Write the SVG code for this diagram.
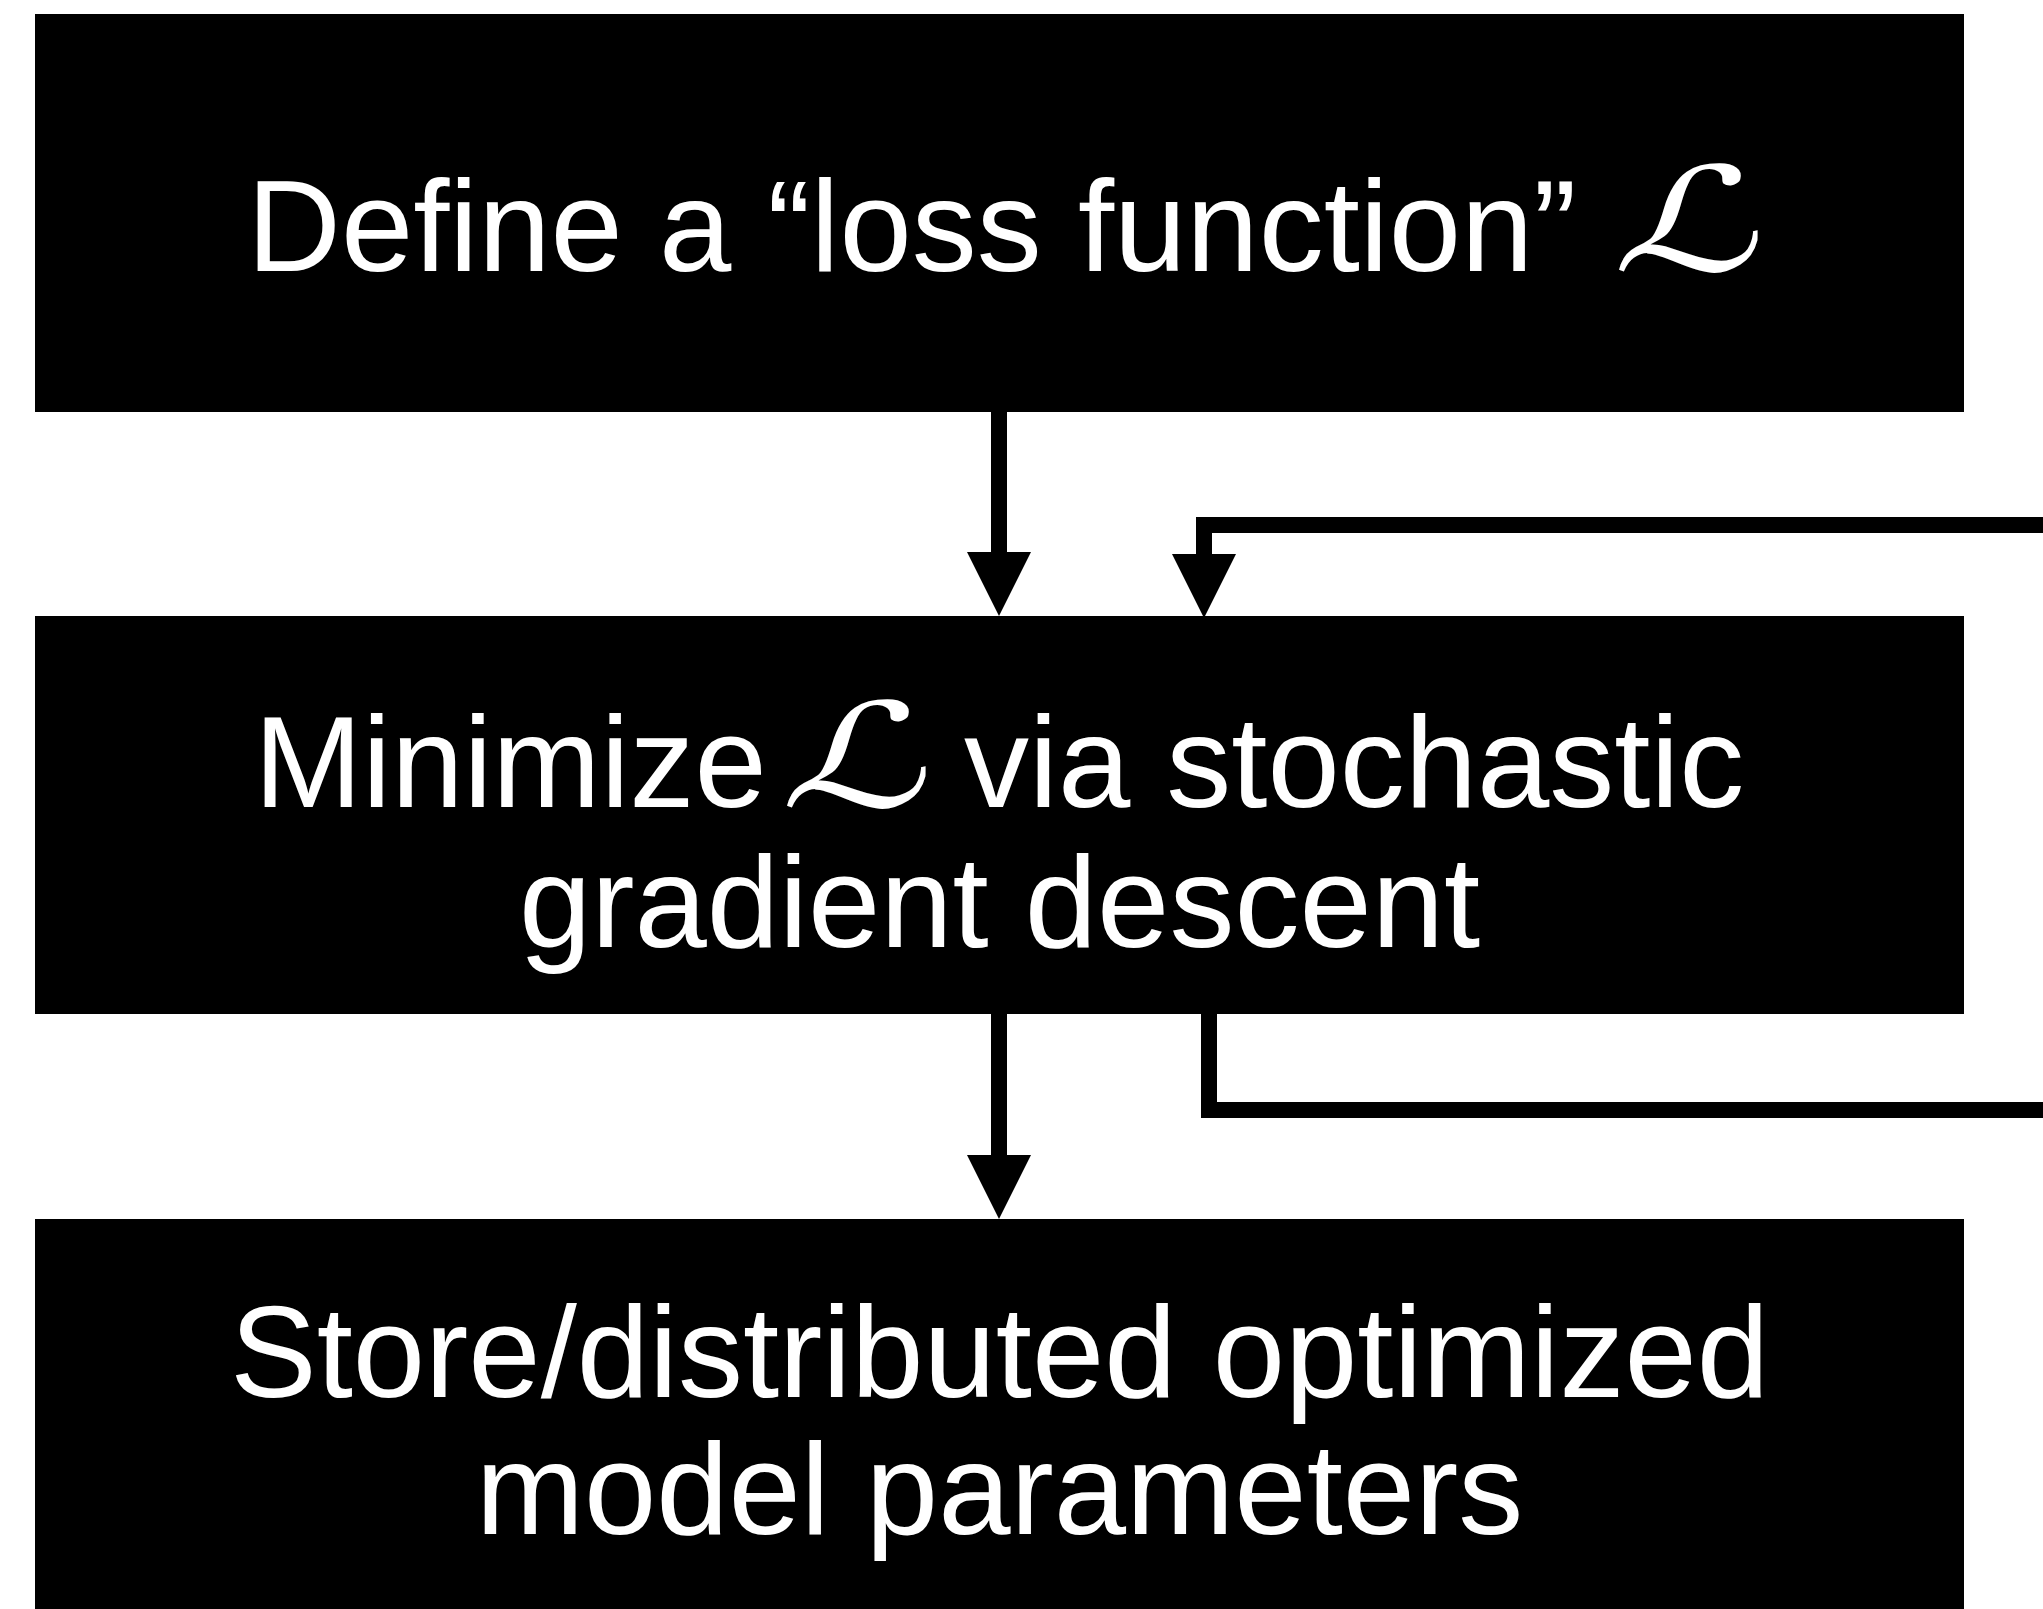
<svg xmlns="http://www.w3.org/2000/svg" width="2043" height="1609" viewBox="0 0 2043 1609">
  <style>
    .box { fill: #000; }
    .label { fill: #fff; font-family: "Liberation Sans", Arial, Helvetica, sans-serif; font-size: 130px; }
    .script { fill: #fff; font-family: "DejaVu Serif", "DejaVu Sans", serif; font-style: italic; font-size: 145px; }
    .wire { fill: none; stroke: #000; stroke-width: 16; stroke-linejoin: miter; stroke-linecap: butt; }
  </style>
  <defs>
    <marker id="head" viewBox="0 0 64 64" refX="0" refY="32" markerWidth="64" markerHeight="64" markerUnits="userSpaceOnUse" orient="auto">
      <path d="M0,0 L64,32 L0,64 Z" fill="#000"/>
    </marker>
  </defs>
  <rect width="2043" height="1609" fill="#fff"/>

  <!-- step 1 -->
  <g id="define-loss">
    <rect class="box" x="35" y="14" width="1929" height="398"/>
    <text class="label" x="247" y="271">Define a “loss function”</text>
    <!-- calligraphic L, widened and slanted -->
    <text class="script" transform="translate(1612,271) skewX(-14) scale(1.4,1)">ℒ</text>
  </g>

  <!-- step 2 -->
  <g id="minimize-sgd">
    <rect class="box" x="35" y="616" width="1929" height="398"/>
    <text class="label" x="254" y="807">Minimize</text>
    <text class="script" transform="translate(780,807) skewX(-14) scale(1.4,1)">ℒ</text>
    <text class="label" x="964" y="807">via stochastic</text>
    <text class="label" x="999.5" y="947" text-anchor="middle">gradient descent</text>
  </g>

  <!-- step 3 -->
  <g id="store-params">
    <rect class="box" x="35" y="1219" width="1929" height="400"/>
    <text class="label" x="999.5" y="1397" text-anchor="middle">Store/distributed optimized</text>
    <text class="label" x="999.5" y="1534" text-anchor="middle">model parameters</text>
  </g>

  <!-- connectors -->
  <g id="connectors">
    <path class="wire" d="M999,412 V552" marker-end="url(#head)"/>
    <path class="wire" d="M999,1014 V1155" marker-end="url(#head)"/>
    <!-- iteration loop leaving and re-entering step 2 -->
    <path class="wire" d="M1209,1014 V1110 H2060"/>
    <path class="wire" d="M2060,525 H1204 V554" marker-end="url(#head)"/>
  </g>
</svg>
